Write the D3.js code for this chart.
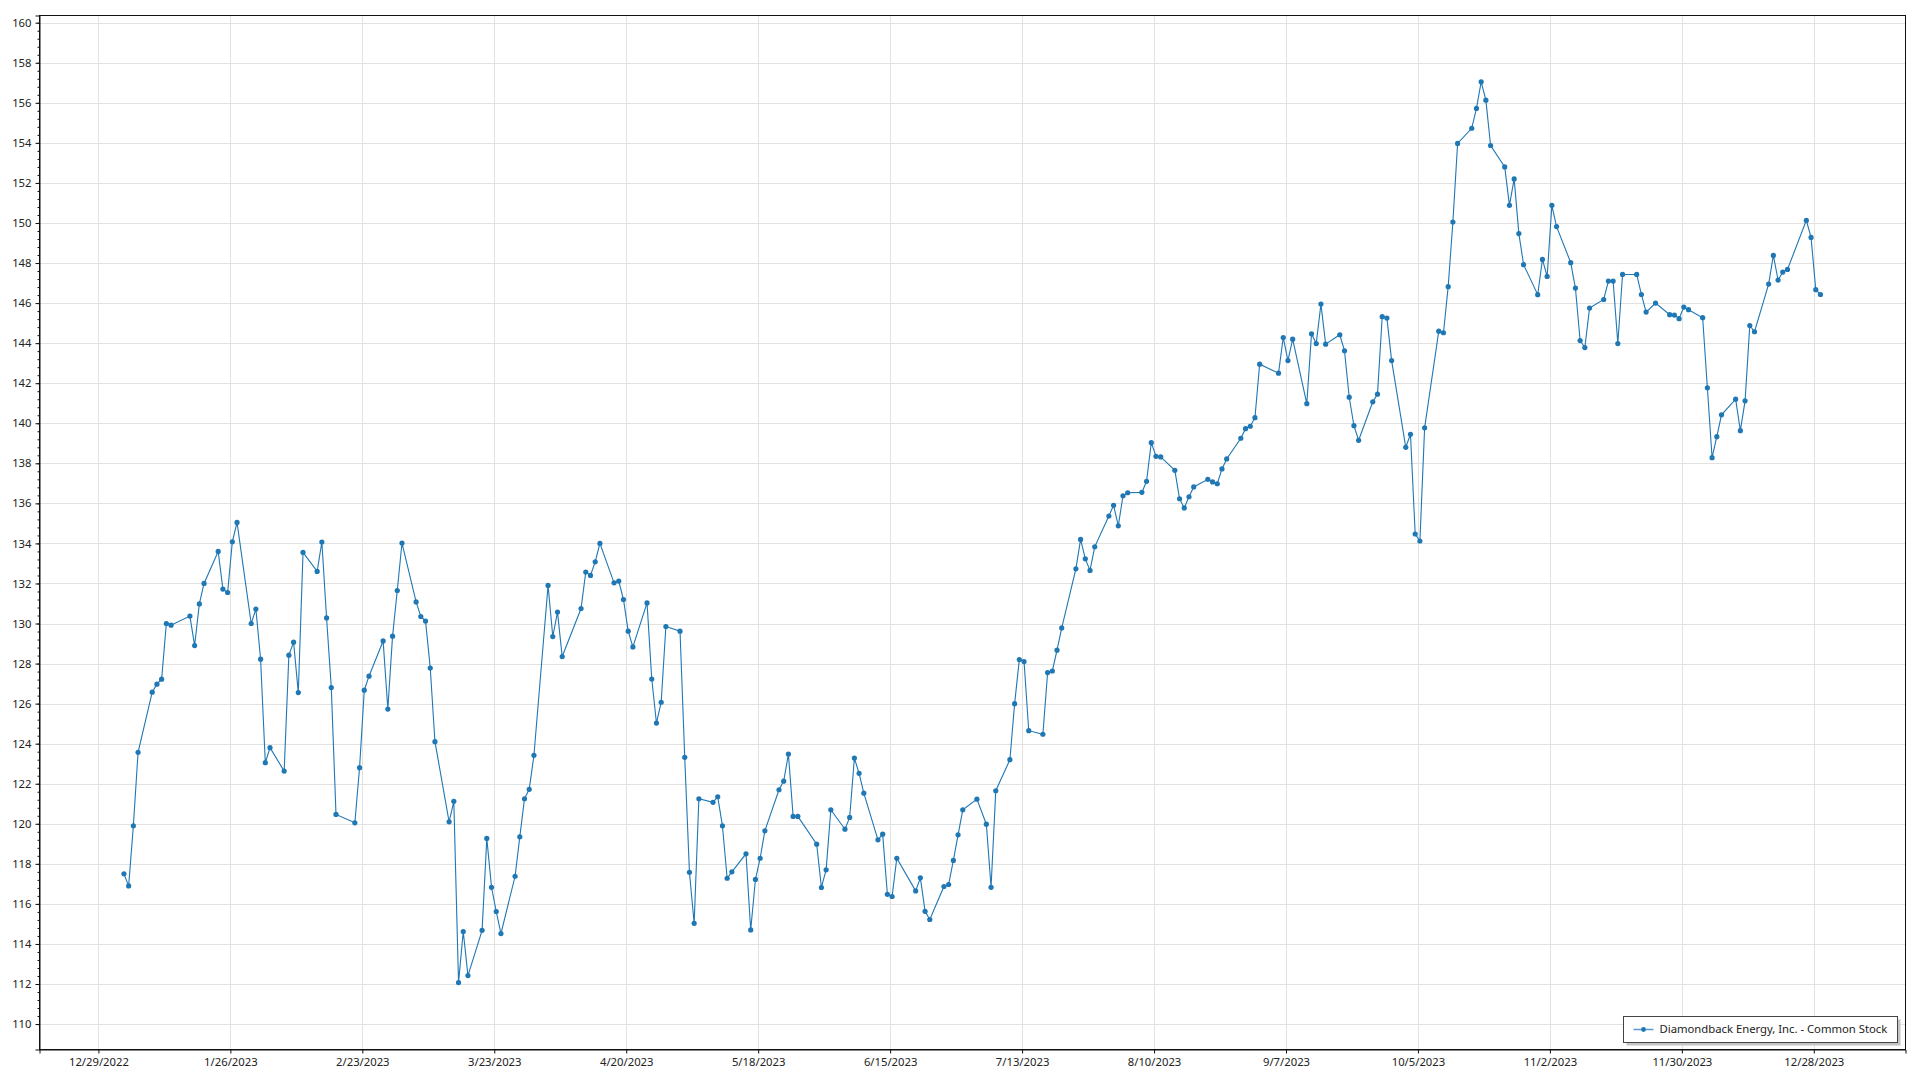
<!DOCTYPE html>
<html>
<head>
<meta charset="utf-8">
<script src="https://cdn.jsdelivr.net/npm/d3@7"></script>
<style>
  html, body { margin: 0; padding: 0; background: #fff; }
  svg { display: block; }
  text { font-family: "Noto Sans", "Open Sans", sans-serif; fill: #222; }
</style>
</head>
<body>
<svg id="chart" width="1920" height="1080"></svg>
<script>
const seriesName = "Diamondback Energy, Inc. - Common Stock";

const tradeDays = [
"01-03","01-04","01-05","01-06","01-09","01-10","01-11","01-12","01-13","01-17","01-18","01-19","01-20","01-23","01-24","01-25","01-26","01-27","01-30","01-31",
"02-01","02-02","02-03","02-06","02-07","02-08","02-09","02-10","02-13","02-14","02-15","02-16","02-17","02-21","02-22","02-23","02-24","02-27","02-28",
"03-01","03-02","03-03","03-06","03-07","03-08","03-09","03-10","03-13","03-14","03-15","03-16","03-17","03-20","03-21","03-22","03-23","03-24","03-27","03-28","03-29","03-30","03-31",
"04-03","04-04","04-05","04-06","04-10","04-11","04-12","04-13","04-14","04-17","04-18","04-19","04-20","04-21","04-24","04-25","04-26","04-27","04-28",
"05-01","05-02","05-03","05-04","05-05","05-08","05-09","05-10","05-11","05-12","05-15","05-16","05-17","05-18","05-19","05-22","05-23","05-24","05-25","05-26","05-30","05-31",
"06-01","06-02","06-05","06-06","06-07","06-08","06-09","06-12","06-13","06-14","06-15","06-16","06-20","06-21","06-22","06-23","06-26","06-27","06-28","06-29","06-30",
"07-03","07-05","07-06","07-07","07-10","07-11","07-12","07-13","07-14","07-17","07-18","07-19","07-20","07-21","07-24","07-25","07-26","07-27","07-28","07-31",
"08-01","08-02","08-03","08-04","08-07","08-08","08-09","08-10","08-11","08-14","08-15","08-16","08-17","08-18","08-21","08-22","08-23","08-24","08-25","08-28","08-29","08-30","08-31",
"09-01","09-05","09-06","09-07","09-08","09-11","09-12","09-13","09-14","09-15","09-18","09-19","09-20","09-21","09-22","09-25","09-26","09-27","09-28","09-29",
"10-02","10-03","10-04","10-05","10-06","10-09","10-10","10-11","10-12","10-13","10-16","10-17","10-18","10-19","10-20","10-23","10-24","10-25","10-26","10-27","10-30","10-31",
"11-01","11-02","11-03","11-06","11-07","11-08","11-09","11-10","11-13","11-14","11-15","11-16","11-17","11-20","11-21","11-22","11-24","11-27","11-28","11-29","11-30",
"12-01","12-04","12-05","12-06","12-07","12-08","12-11","12-12","12-13","12-14","12-15","12-18","12-19","12-20","12-21","12-22","12-26","12-27","12-28","12-29"
];

const closePrices = [
117.5,116.9,119.9,123.57,126.57,126.97,127.22,130.0,129.92,130.37,128.9,130.98,132.0,133.6,131.72,131.55,134.08,135.05,130.0,130.72,
128.22,123.05,123.8,122.63,128.42,129.07,126.55,133.55,132.6,134.07,130.28,126.8,120.47,120.05,122.8,126.67,127.37,129.13,125.73,
129.37,131.65,134.02,131.08,130.35,130.12,127.78,124.1,120.1,121.12,112.07,114.62,112.42,114.68,119.27,116.83,115.62,114.52,117.38,119.35,121.25,121.72,123.42,
131.9,129.35,130.57,128.35,130.75,132.57,132.4,133.08,134.0,132.03,132.12,131.2,129.62,128.83,131.03,127.23,125.03,126.07,129.85,
129.62,123.32,117.58,115.03,121.25,121.07,121.35,119.9,117.28,117.6,118.5,114.7,117.22,118.28,119.65,121.7,122.13,123.48,120.37,120.37,118.98,116.82,
117.7,120.7,119.73,120.32,123.28,122.52,121.53,119.2,119.48,116.48,116.37,118.28,116.65,117.3,115.63,115.22,116.87,116.97,118.17,119.45,120.7,
121.23,119.98,116.83,121.65,123.2,126.0,128.2,128.1,124.65,124.47,127.55,127.63,128.67,129.78,132.73,134.2,133.23,132.65,133.83,135.37,
135.9,134.88,136.38,136.53,136.55,137.1,139.03,138.35,138.32,137.65,136.23,135.77,136.33,136.82,137.2,137.07,136.98,137.72,138.22,139.25,139.73,139.85,140.28,
142.95,142.5,144.28,143.13,144.2,140.98,144.47,143.98,145.95,143.95,144.42,143.62,141.3,139.88,139.15,141.07,141.45,145.32,145.25,143.13,
138.8,139.45,134.47,134.12,139.77,144.6,144.52,146.82,150.05,153.97,154.73,155.72,157.05,156.13,153.87,152.8,150.88,152.2,149.47,147.92,146.42,148.18,
147.33,150.88,149.82,148.02,146.75,144.13,143.78,145.75,146.18,147.1,147.1,143.98,147.43,147.43,146.43,145.55,146.0,145.42,145.4,145.22,145.8,
145.67,145.27,141.77,138.28,139.33,140.42,141.2,139.63,141.12,144.88,144.57,146.95,148.38,147.15,147.55,147.68,150.13,149.28,146.67,146.43
];

const xTickDates = ["2022-12-29","2023-01-26","2023-02-23","2023-03-23","2023-04-20","2023-05-18","2023-06-15","2023-07-13","2023-08-10","2023-09-07","2023-10-05","2023-11-02","2023-11-30","2023-12-28"];
const yTickValues = [110,112,114,116,118,120,122,124,126,128,130,132,134,136,138,140,142,144,146,148,150,152,154,156,158,160];
const xDomain = ["2022-12-16T12:00:00", "2024-01-16T11:00:00"];
const yDomain = [108.73, 160.36];

const parseLocal = d3.timeParse("%Y-%m-%dT%H:%M:%S");
const parseDay = d3.timeParse("%Y-%m-%d");
const data = tradeDays.map((d, i) => ({ date: parseLocal("2023-" + d + "T10:00:00"), value: closePrices[i] }));

const plot = { left: 39.5, top: 15.5, right: 1905.5, bottom: 1049.5 };

const svg = d3.select("#chart");
const x = d3.scaleTime().domain(xDomain.map(parseLocal)).range([plot.left, plot.right]);
const y = d3.scaleLinear().domain(yDomain).range([plot.bottom, plot.top]);

const xTicks = xTickDates.map(parseDay);
const fmt = d => (d.getMonth() + 1) + "/" + d.getDate() + "/" + d.getFullYear();

// font size that makes a sample string reach a target width
function fitSize(sample, targetWidth, base) {
  const t = svg.append("text").style("font-size", base + "px").text(sample);
  const w = t.node().getComputedTextLength();
  t.remove();
  return w > 0 ? base * targetWidth / w : base;
}
const tickFont = fitSize("12/29/2022", 60, 12);
const legendFont = fitSize(seriesName, 228, 12);

// gridlines
const grid = svg.append("g");
grid.selectAll("line.h").data(yTickValues).join("line")
  .attr("x1", plot.left).attr("x2", plot.right)
  .attr("y1", d => Math.round(y(d)) + 0.5).attr("y2", d => Math.round(y(d)) + 0.5)
  .attr("stroke", "#e2e2e2").attr("stroke-width", 1);
grid.selectAll("line.v").data(xTicks).join("line")
  .attr("y1", plot.top).attr("y2", plot.bottom)
  .attr("x1", d => Math.round(x(d)) + 0.5).attr("x2", d => Math.round(x(d)) + 0.5)
  .attr("stroke", "#e2e2e2").attr("stroke-width", 1);

// frame
svg.append("rect")
  .attr("x", plot.left).attr("y", plot.top)
  .attr("width", plot.right - plot.left).attr("height", plot.bottom - plot.top)
  .attr("fill", "none").attr("stroke", "#111").attr("stroke-width", 1);

// minor y ticks
const minorY = d3.range(110, 160.5, 0.4).filter(v => v >= yDomain[0] && v <= yDomain[1]);
const yMinor = svg.append("g").attr("transform", `translate(${plot.left},0)`)
  .call(d3.axisLeft(y).tickValues(minorY).tickSize(2).tickFormat(""));
yMinor.select(".domain").remove();
yMinor.selectAll("line").attr("stroke", "#111");

// y axis
const yAxis = svg.append("g").attr("transform", `translate(${plot.left},0)`)
  .call(d3.axisLeft(y).tickValues(yTickValues).tickSize(4).tickPadding(4).tickFormat(d3.format("d")));
yAxis.select(".domain").attr("stroke", "#111");
yAxis.selectAll("line").attr("stroke", "#111");
yAxis.selectAll("text").style("font-size", tickFont + "px").style("font-family", '"Noto Sans", sans-serif').attr("fill", "#222");

// x axis
const xAxis = svg.append("g").attr("transform", `translate(0,${plot.bottom})`)
  .call(d3.axisBottom(x).tickValues(xTicks).tickSize(4).tickPadding(4).tickFormat(fmt));
xAxis.select(".domain").attr("stroke", "#111");
xAxis.selectAll("line").attr("stroke", "#111");
xAxis.selectAll("text").style("font-size", tickFont + "px").style("font-family", '"Noto Sans", sans-serif').attr("fill", "#222");

// series
const color = "#1f77b4";
const line = d3.line().x(d => x(d.date)).y(d => y(d.value));
svg.append("path").datum(data)
  .attr("d", line).attr("fill", "none").attr("stroke", color).attr("stroke-width", 1.1);
svg.append("g").selectAll("circle").data(data).join("circle")
  .attr("cx", d => x(d.date)).attr("cy", d => y(d.value)).attr("r", 2.6).attr("fill", color);

// legend
const lg = { x: 1623.5, y: 1016.5, w: 274, h: 26 };
const legend = svg.append("g");
legend.append("rect").attr("x", lg.x + 3).attr("y", lg.y + 3).attr("width", lg.w).attr("height", lg.h).attr("fill", "#c4c4c4");
legend.append("rect").attr("x", lg.x).attr("y", lg.y).attr("width", lg.w).attr("height", lg.h)
  .attr("fill", "#fff").attr("stroke", "#444").attr("stroke-width", 1);
legend.append("line").attr("x1", lg.x + 10).attr("x2", lg.x + 30).attr("y1", lg.y + 13).attr("y2", lg.y + 13)
  .attr("stroke", "#5b9bd5").attr("stroke-width", 1.5);
legend.append("circle").attr("cx", lg.x + 20).attr("cy", lg.y + 13).attr("r", 2.4).attr("fill", color);
legend.append("text").attr("x", lg.x + 36).attr("y", lg.y + 13).attr("dy", "0.35em")
  .style("font-size", legendFont + "px").text(seriesName);
</script>
</body>
</html>
